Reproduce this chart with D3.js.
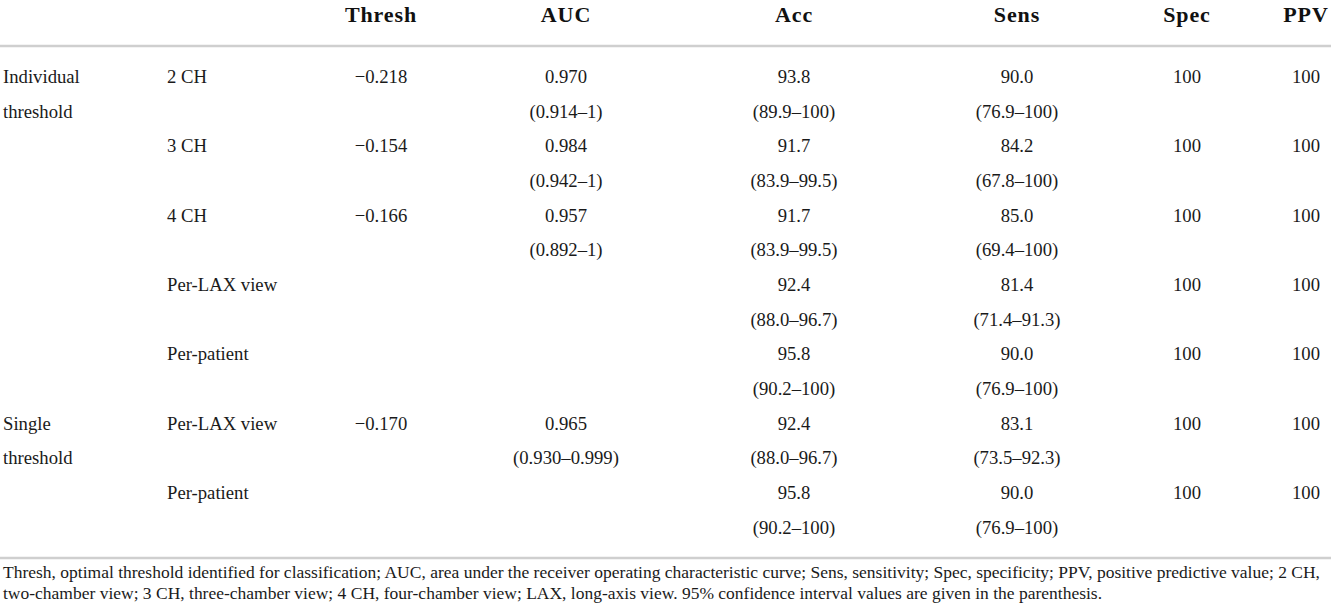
<!DOCTYPE html>
<html><head><meta charset="utf-8">
<script src="https://cdn.jsdelivr.net/npm/d3@7"></script>
<style>html,body{margin:0;padding:0;background:#fff;}svg{display:block;}</style>
</head><body>
<script>
// ---- data ----
const headers = ["Thresh","AUC","Acc","Sens","Spec","PPV"];
const groups = [["Individual","threshold"],null,null,null,null,["Single","threshold"],null];
const views = ["2 CH","3 CH","4 CH","Per-LAX view","Per-patient","Per-LAX view","Per-patient"];
const thresh = ["\u22120.218","\u22120.154","\u22120.166","","","\u22120.170",""];
const auc = ["0.970","0.984","0.957","","","0.965",""];
const aucCI = ["(0.914\u20131)","(0.942\u20131)","(0.892\u20131)","","","(0.930\u20130.999)",""];
const acc = ["93.8","91.7","91.7","92.4","95.8","92.4","95.8"];
const accCI = ["(89.9\u2013100)","(83.9\u201399.5)","(83.9\u201399.5)","(88.0\u201396.7)","(90.2\u2013100)","(88.0\u201396.7)","(90.2\u2013100)"];
const sens = ["90.0","84.2","85.0","81.4","90.0","83.1","90.0"];
const sensCI = ["(76.9\u2013100)","(67.8\u2013100)","(69.4\u2013100)","(71.4\u201391.3)","(76.9\u2013100)","(73.5\u201392.3)","(76.9\u2013100)"];
const spec = ["100","100","100","100","100","100","100"];
const ppv = ["100","100","100","100","100","100","100"];
const footnote = [
 "Thresh, optimal threshold identified for classification; AUC, area under the receiver operating characteristic curve; Sens, sensitivity; Spec, specificity; PPV, positive predictive value; 2 CH,",
 "two-chamber view; 3 CH, three-chamber view; 4 CH, four-chamber view; LAX, long-axis view. 95% confidence interval values are given in the parenthesis."
];

const W = 1331, H = 616;
const FONT = "'Liberation Serif', 'DejaVu Serif', serif";
const svg = d3.select("body").append("svg").attr("width", W).attr("height", H);

const colX = d3.scaleOrdinal().domain(headers).range([381, 566, 794, 1017, 1187, 1306]);
const rowY = d3.scaleLinear().domain([0, 6]).range([83, 499]);
const lineGap = 34.6;
const fs = 18.7;

// header
svg.append("g").selectAll("text").data(headers).join("text")
  .attr("x", d => colX(d)).attr("y", 22).attr("text-anchor", "middle")
  .attr("font-family", FONT).attr("font-size", 22).attr("font-weight", "bold")
  .attr("letter-spacing", 0.9).attr("fill", "#111")
  .text(d => d);

// rules
svg.append("line").attr("x1", 0).attr("x2", W).attr("y1", 46).attr("y2", 46)
  .attr("stroke", "#cfcfcf").attr("stroke-width", 2.5);
svg.append("line").attr("x1", 0).attr("x2", W).attr("y1", 558).attr("y2", 558)
  .attr("stroke", "#cfcfcf").attr("stroke-width", 2.5);

const body = svg.append("g").attr("font-family", FONT).attr("font-size", fs).attr("fill", "#1a1a1a");
const idx = d3.range(views.length);

// group labels
idx.forEach(i => {
  if (groups[i]) {
    groups[i].forEach((t, k) => body.append("text").attr("x", 3).attr("y", rowY(i) + k * lineGap).text(t));
  }
});
body.append("g").selectAll("text").data(idx).join("text")
  .attr("x", 167).attr("y", i => rowY(i)).text(i => views[i]);

function col(key, top, bottom) {
  const g = body.append("g").attr("text-anchor", "middle");
  g.selectAll("text.t").data(idx.filter(i => top[i])).join("text").attr("class", "t")
    .attr("x", colX(key)).attr("y", i => rowY(i)).text(i => top[i]);
  if (bottom) {
    g.selectAll("text.b").data(idx.filter(i => bottom[i])).join("text").attr("class", "b")
      .attr("x", colX(key)).attr("y", i => rowY(i) + lineGap).text(i => bottom[i]);
  }
}
col("Thresh", thresh);
col("AUC", auc, aucCI);
col("Acc", acc, accCI);
col("Sens", sens, sensCI);
col("Spec", spec);
col("PPV", ppv);

// footnote
const footLen = [1320, 1102];
svg.append("g").selectAll("text").data(footnote).join("text")
  .attr("x", 3).attr("y", (d, i) => 578 + i * 21)
  .attr("font-family", FONT).attr("font-size", 17.5).attr("fill", "#1a1a1a")
  .attr("textLength", (d, i) => footLen[i] - 3).attr("lengthAdjust", "spacingAndGlyphs")
  .text(d => d);
</script>
</body></html>
